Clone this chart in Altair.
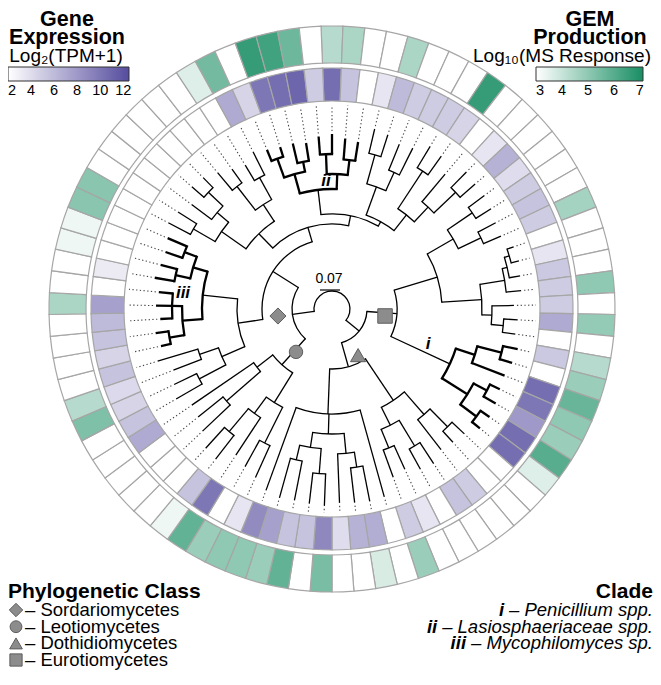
import math
import altair as alt
import pandas as pd

# ------------------------------------------------------------------ data
N_LEAVES = 81
STEP = 360.0 / N_LEAVES

# leaf order: clockwise from 12 o'clock
gene_expression = [10.5, 5.5, 2, 3.5, 6, 5, 5, 5, 4.5, 2,
                   3.5, 6.5, 4, 5, 5.5, 5, 2, 3.5, 5.2, 5,
                   5, 7, 2, 5.2, 2, 10.5, 10, 8, 10.5, 10.5,
                   2, 2, 5, 5.5, 2, 3.5, 5, 2, 6.8, 6.5,
                   4, 9, 5.5, 5.5, 7.5, 8.8, 3.5, 2, 10, 5.5,
                   2, 2, 2, 7, 5.5, 4.5, 4.2, 5.5, 4.5, 5.5,
                   6, 7.5, 2, 3.2, 2, 2, 2, 2, 2, 2,
                   2, 2, 2, 2, 2, 7, 4.5, 10, 10.5, 11,
                   5]
gem_production = [4.3, 4.5, 3, 3, 4.5, 3, 3, 3, 6.6, 3,
                  3, 3, 3, 3, 3, 4.6, 3, 3, 3, 5.0,
                  3, 4.9, 3, 4.3, 4.8, 5.7, 5.0, 4.8, 6.0, 3.6,
                  3, 3, 3, 3, 3, 3, 4.8, 3, 3.7, 3,
                  3, 5.4, 3, 5.8, 4.8, 5.0, 5.0, 4.8, 5.8, 3.3,
                  3, 3, 3, 3, 3, 5.3, 4.3, 3, 3, 3,
                  3, 4.5, 3, 3, 3.3, 3.3, 5.1, 5.1, 3, 3,
                  3, 3, 3, 3, 3.6, 5.5, 3, 6.6, 6.4, 5.6,
                  3]
gene_ticks = [2, 4, 6, 8, 10, 12]
gem_ticks = [3, 4, 5, 6, 7]

# tree: [node depth, child, child, ...]; a bare number is a leaf (tip depth)
LEOTIO = [75, [110, [150, 185, 180], [130, 175, [160, 190, 188]]],
              [95, [140, 178, 172], 170]]
CLADE_III = [130, [150, [165, 175, 178], [160, 172, 176, 174]],
                  [145, [160, 180, 177], [158, 176, 179]]]
S1 = [95, [120, [150, 180, 175], [140, 170, 182]], CLADE_III]
U_GRP = [105, [135, [160, 185, 182], [150, 175, [170, 186, 184]]],
              [125, [155, 178, 172], [150, 168, 176]]]
CLADE_II = [120, [140, [160, 172, 170], [150, 170, 168]],
                 [135, [155, 173, 175], [150, 171, 169]]]
W_GRP = [100, [130, [160, 185, 183], [150, 178, 180]],
              [120, [165, 190, 188], [140, 176, [170, 192, 190]]]]
SORDARIO = [70, S1, [85, U_GRP, [95, CLADE_II, W_GRP]]]
E1 = [110, [140, [170, 190, 188], [165, 185, 184]],
           [150, [175, [180, [185, 192, 193], 191], 190],
                 [160, 182, [172, 186, 185]]]]
CLADE_I = [130, [150, [175, 190, 188], 185],
                [160, [175, 186, 189], [180, 191, 190]]]
EUROTIO = [65, E1, CLADE_I]
D1 = [110, [140, [165, 182, 180], 178], [130, [160, 185, 183], [150, 176, 179]]]
D2 = [105, 195, [125, [145, [160, 196, 195], 194],
                      [140, [165, 197, 196], [155, 195, 196]]], 193]
DOTHIDEO = [60, D1, D2]
TREE = [18, [40, LEOTIO, SORDARIO], [35, EUROTIO, DOTHIDEO]]
THICK_CLADES = (CLADE_I, CLADE_II, CLADE_III)
START_LEAF = 46

class_names = ["Sordariomycetes", "Leotiomycetes", "Dothidiomycetes", "Eurotiomycetes"]
class_shapes = ["diamond", "circle", "triangle-up", "square"]
class_marker_angle = [262.6, 220.0, 150.5, 97.5]
class_marker_radius = [54.5, 56.0, 53.0, 53.5]
class_marker_size = [260, 180, 230, 210]
legend_symbol_size = [180, 140, 160, 150]
clade_numerals = ["i", "ii", "iii"]
clade_names = ["\u2013 Penicillium spp.", "\u2013 Lasiosphaeriaceae spp.",
               "\u2013 Mycophilomyces sp."]

# ------------------------------------------------------------------ layout
W, H = 645, 662
CX, CY = 324, 301
R_END = 204
FONT = "Liberation Sans, Arial, sans-serif"
ROW_FONT = 18.5

# Arial advance widths (1/1000 em) used to park the bold numerals next to the
# right-aligned clade descriptions
ARIAL_W = {"\u2013": 556, " ": 278, ".": 278, "P": 667, "L": 556, "M": 833,
           "a": 556, "c": 500, "e": 556, "h": 556, "i": 222, "l": 222, "m": 833,
           "n": 556, "o": 556, "p": 556, "r": 333, "s": 500, "u": 556, "y": 500}


def text_px(s, size):
    return sum(ARIAL_W.get(ch, 556) for ch in s) * size / 1000.0


def pg(px, py):
    return px - 8 - CX, CY - (py - 8)


segments, arcs, leaders = [], [], []
_count = [0]


def layout(node, parent_r, thick):
    if not isinstance(node, list):
        k = START_LEAF + _count[0]
        _count[0] += 1
        ang = k * STEP
        segments.append({"a": ang, "r0": parent_r, "r1": node, "w": 2.3 if thick else 1.3})
        leaders.append({"a": ang, "r0": node + 3, "r1": R_END})
        return ang
    r = node[0]
    inner = thick or any(node is t for t in THICK_CLADES)
    angs = [layout(c, r, inner) for c in node[1:]]
    lo, hi = min(angs), max(angs)
    w = 2.3 if inner else 1.3
    ext = (w / 2) / r * 180 / math.pi
    arcs.append({"a0": lo - ext, "a1": hi + ext, "ri": r - w / 2, "ro": r + w / 2})
    mid = (lo + hi) / 2
    if parent_r is not None:
        segments.append({"a": mid, "r0": parent_r, "r1": r, "w": 2.3 if thick else 1.3})
    return mid


layout(TREE, None, False)

XS = alt.Scale(domain=[-CX, W - CX], nice=False, zero=False)
YS = alt.Scale(domain=[-(H - CY), CY], nice=False, zero=False)
TS = alt.Scale(domain=[0, 360], range=[0, 2 * math.pi], nice=False, zero=False)
RS = alt.Scale(type="linear", domain=[0, 300], range=[0, 300], nice=False, zero=False)
CENTER = dict(x=alt.XDatum(0, type="quantitative", scale=XS, axis=None),
              y=alt.YDatum(0, type="quantitative", scale=YS, axis=None))

POLAR = dict(x0="datum.r0 * sin(datum.a * PI / 180)", y0="datum.r0 * cos(datum.a * PI / 180)",
             x1="datum.r1 * sin(datum.a * PI / 180)", y1="datum.r1 * cos(datum.a * PI / 180)")


def grad_legend(x, y, length, ticks):
    return alt.Legend(orient="none", legendX=x, legendY=y, direction="horizontal",
                      gradientLength=length, gradientThickness=14, title=None,
                      values=ticks, labelOverlap=False, labelFontSize=14.5,
                      labelFont=FONT, labelColor="black",
                      gradientStrokeColor="#333333", gradientStrokeWidth=1,
                      labelOffset=3, padding=0)


# ------------------------------------------------------------------ rings
cells = pd.DataFrame({"leaf": list(range(N_LEAVES)), "gene": gene_expression,
                      "gem": gem_production})
ring = alt.Chart(cells).transform_calculate(
    a0=f"(datum.leaf - 0.5) * {STEP}", a1=f"(datum.leaf + 0.5) * {STEP}")

inner_ring = ring.mark_arc(stroke="#a6a6a6", strokeWidth=1.2).encode(
    theta=alt.Theta("a0:Q", scale=TS, stack=None), theta2="a1:Q",
    radius=alt.value(241), radius2=alt.value(208),
    color=alt.Color("gene:Q",
                    scale=alt.Scale(domain=[2, 12.5], range=["#ffffff", "#554c9e"],
                                    interpolate="rgb", clamp=True),
                    legend=grad_legend(0, 59, 121, gene_ticks)),
    **CENTER)

outer_ring = ring.mark_arc(stroke="#a6a6a6", strokeWidth=1.2).encode(
    theta=alt.Theta("a0:Q", scale=TS, stack=None), theta2="a1:Q",
    radius=alt.value(283), radius2=alt.value(246),
    color=alt.Color("gem:Q",
                    scale=alt.Scale(domain=[3, 7.12], range=["#ffffff", "#188e63"],
                                    interpolate="rgb", clamp=True),
                    legend=grad_legend(528, 59, 107, gem_ticks)),
    **CENTER)

# ------------------------------------------------------------------ tree
tree_arcs = alt.Chart(pd.DataFrame(arcs)).mark_arc(color="black").encode(
    theta=alt.Theta("a0:Q", scale=TS, stack=None), theta2="a1:Q",
    radius=alt.Radius("ro:Q", scale=RS), radius2="ri:Q", **CENTER)

tree_rules = alt.Chart(pd.DataFrame(segments)).transform_calculate(**POLAR).mark_rule(
    color="black").encode(
    x=alt.X("x0:Q", scale=XS, axis=None), y=alt.Y("y0:Q", scale=YS, axis=None),
    x2="x1:Q", y2="y1:Q", strokeWidth=alt.StrokeWidth("w:Q", scale=None, legend=None))

leader_rules = alt.Chart(pd.DataFrame(leaders)).transform_calculate(**POLAR).mark_rule(
    color="#444444", strokeWidth=1.1, strokeDash=[1.3, 2.4]).encode(
    x=alt.X("x0:Q", scale=XS, axis=None), y=alt.Y("y0:Q", scale=YS, axis=None),
    x2="x1:Q", y2="y1:Q")

markers = pd.DataFrame({"cls": class_names, "shape": class_shapes,
                        "a": class_marker_angle, "r0": class_marker_radius,
                        "size": class_marker_size})
marker_layer = alt.Chart(markers).transform_calculate(
    px="datum.r0 * sin(datum.a * PI / 180)", py="datum.r0 * cos(datum.a * PI / 180)"
).mark_point(filled=True, fill="#8c8c8c", stroke="#5e5e5e", strokeWidth=1, opacity=1).encode(
    x=alt.X("px:Q", scale=XS, axis=None), y=alt.Y("py:Q", scale=YS, axis=None),
    shape=alt.Shape("shape:N", scale=None), size=alt.Size("size:Q", scale=None))

# ------------------------------------------------------------------ annotations
rows = []


def add(grp, text, px, py):
    ux, uy = pg(px, py)
    rows.append({"grp": grp, "text": text, "ux": ux, "uy": uy})


add("bold_c", "Gene", 67, 26)
add("bold_c", "Expression", 67, 44)
add("bold_c", "GEM", 590, 26)
add("bold_c", "Production", 590, 44)
add("norm_c", "Log\u2082(TPM+1)", 66, 62)
add("norm_c", "Log\u2081\u2080(MS Response)", 562, 62)
add("bold_l", "Phylogenetic Class", 8, 598)
add("bold_r", "Clade", 653, 598)
ROW_Y = [616, 632.7, 649.4, 666]
for i, nm in enumerate(class_names):
    add("norm_l", "\u2013 " + nm, 25, ROW_Y[i])
for i in range(3):
    add("ital_r", clade_names[i], 653, ROW_Y[i])
    add("bi_r", clade_numerals[i], 653 - text_px(clade_names[i], ROW_FONT) - 5, ROW_Y[i])
add("clade", "i", 428, 349)
add("clade", "ii", 326, 186)
add("clade", "iii", 183, 298)
add("scale", "0.07", 329, 283)
ann = pd.DataFrame(rows)


def text_layer(grp, **kw):
    return alt.Chart(ann).transform_filter(alt.datum.grp == grp).mark_text(
        font=FONT, color="black", baseline="alphabetic", **kw).encode(
        x=alt.X("ux:Q", scale=XS, axis=None), y=alt.Y("uy:Q", scale=YS, axis=None),
        text="text:N")


texts = [
    text_layer("bold_c", align="center", fontSize=21.5, fontWeight="bold"),
    text_layer("norm_c", align="center", fontSize=19),
    text_layer("bold_l", align="left", fontSize=21, fontWeight="bold"),
    text_layer("bold_r", align="right", fontSize=21, fontWeight="bold"),
    text_layer("norm_l", align="left", fontSize=ROW_FONT),
    text_layer("ital_r", align="right", fontSize=ROW_FONT, fontStyle="italic"),
    text_layer("bi_r", align="right", fontSize=ROW_FONT, fontStyle="italic", fontWeight="bold"),
    text_layer("clade", align="center", fontSize=17, fontStyle="italic", fontWeight="bold"),
    text_layer("scale", align="center", fontSize=14),
]

sym_rows = []
for i, (s, sz) in enumerate(zip(class_shapes, legend_symbol_size)):
    ux, uy = pg(16, ROW_Y[i] - 6)
    sym_rows.append({"shape": s, "size": sz, "ux": ux, "uy": uy})
sym_layer = alt.Chart(pd.DataFrame(sym_rows)).mark_point(
    filled=True, fill="#8c8c8c", stroke="#5e5e5e", strokeWidth=1, opacity=1).encode(
    x=alt.X("ux:Q", scale=XS, axis=None), y=alt.Y("uy:Q", scale=YS, axis=None),
    shape=alt.Shape("shape:N", scale=None), size=alt.Size("size:Q", scale=None))

bx0, by0 = pg(320, 290)
bx1, by1 = pg(340, 290)
bar_layer = alt.Chart(pd.DataFrame({"x0": [bx0], "y0": [by0], "x1": [bx1], "y1": [by1]})).mark_rule(
    color="black", strokeWidth=1.2).encode(
    x=alt.X("x0:Q", scale=XS, axis=None), y=alt.Y("y0:Q", scale=YS, axis=None),
    x2="x1:Q", y2="y1:Q")

chart = alt.layer(
    inner_ring, outer_ring, leader_rules, tree_arcs, tree_rules, marker_layer,
    bar_layer, sym_layer, *texts
).resolve_scale(color="independent").properties(
    width=W, height=H, padding=0, autosize="none"
).configure_view(stroke=None)

chart.save("out.html", embed_options={"renderer": "svg", "actions": False})
